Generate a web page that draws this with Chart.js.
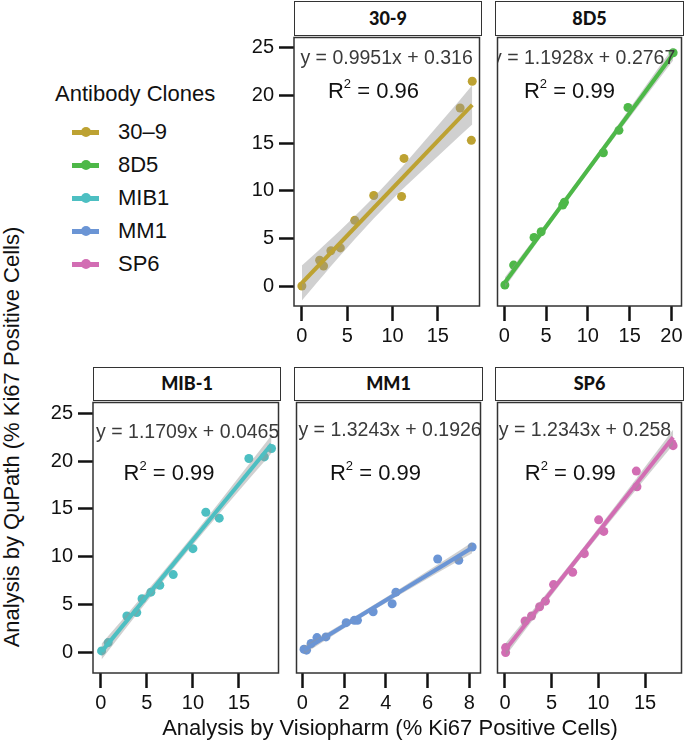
<!DOCTYPE html>
<html>
<head>
<meta charset="utf-8">
<script src="https://cdn.jsdelivr.net/npm/chart.js@4.4.0/dist/chart.umd.min.js"></script>
<style>
  body { margin: 0; background: #fff; width: 685px; height: 742px; position: relative; overflow: hidden;
         font-family: "Liberation Sans", Arial, sans-serif; color: #111; }
  canvas { position: absolute; }
  .strip { position: absolute; box-sizing: border-box; border: 1.5px solid #333; background: #fff;
           font-family: Lato, "Open Sans", sans-serif; font-weight: 900; font-size: 18px; text-align: center; }
  .abs { position: absolute; white-space: nowrap; }
</style>
</head>
<body>
<script>
// data
const clones = ['30–9', '8D5', 'MIB1', 'MM1', 'SP6'];
const stripNames = ['30-9', '8D5', 'MIB-1', 'MM1', 'SP6'];
const colors = ['#BDA232', '#4DB848', '#4DBFC2', '#6B95D5', '#D26DB3'];

const x309 = [0.0, 1.96, 2.39, 3.2, 4.24, 5.83, 7.93, 11.0, 11.27, 17.46, 18.8, 18.7];
const y309 = [0.0, 2.7, 2.1, 3.7, 4.0, 6.9, 9.5, 9.4, 13.4, 18.7, 21.5, 15.3];
const x8d5 = [0.08, 1.13, 3.57, 4.42, 7.0, 7.2, 11.86, 13.72, 14.8, 20.2];
const y8d5 = [0.1, 2.2, 5.1, 5.7, 8.5, 8.8, 14.0, 16.35, 18.75, 24.5];
const xmib = [0.07, 0.79, 2.82, 3.9, 4.47, 5.43, 6.4, 7.86, 10.0, 11.4, 12.86, 16.08, 17.76, 18.54];
const ymib = [0.2, 1.07, 3.84, 4.2, 5.64, 6.33, 7.05, 8.16, 10.86, 14.66, 14.04, 20.26, 20.43, 21.3];
const xmm1 = [0.08, 0.2, 0.42, 0.7, 1.13, 2.1, 2.49, 2.64, 3.39, 4.3, 4.48, 6.48, 7.49, 8.13];
const ymm1 = [0.38, 0.28, 0.97, 1.59, 1.66, 3.15, 3.39, 3.39, 4.29, 5.12, 6.33, 9.79, 9.65, 11.03];
const xsp6 = [0.07, 0.07, 2.15, 2.84, 3.71, 4.33, 5.2, 7.25, 8.5, 10.03, 10.58, 14.06, 14.13, 17.88, 18.0];
const ysp6 = [0.03, 0.55, 3.32, 3.84, 4.81, 5.39, 7.12, 8.4, 10.34, 13.87, 12.66, 18.95, 17.32, 21.82, 21.6];

const slopes = [0.9951, 1.1928, 1.1709, 1.3243, 1.2343];
const intercepts = [0.316, 0.2767, 0.0465, 0.1926, 0.258];
const r2 = ['0.96', '0.99', '0.99', '0.99', '0.99'];

const yTicks = [0, 5, 10, 15, 20, 25];
const xTicks5 = [0, 5, 10, 15];
const xTicks5to20 = [0, 5, 10, 15, 20];
const xTicks2 = [0, 2, 4, 6, 8];

const xs = [x309, x8d5, xmib, xmm1, xsp6];
const ys = [y309, y8d5, ymib, ymm1, ysp6];

// layout of the panels (pixels) and label spots (data units)
const panels = [
  { left: 294, top: 35, w: 188, h: 271, stripTop: 1, yAxis: true, xMin: -0.87, xMax: 19.6, xTicks: xTicks5,
    eq: [9.35, 23.85], rr: [7.9, 20.4] },
  { left: 495, top: 35, w: 189, h: 271, stripTop: 1, yAxis: false, xMin: -0.8, xMax: 21.2, xTicks: xTicks5to20,
    eq: [9.5, 23.85], rr: [7.8, 20.4] },
  { left: 93, top: 400, w: 188, h: 273, stripTop: 367, yAxis: true, xMin: -0.86, xMax: 19.3, xTicks: xTicks5,
    eq: [9.43, 23.0], rr: [7.4, 18.7] },
  { left: 294, top: 400, w: 189, h: 273, stripTop: 367, yAxis: false, xMin: -0.28, xMax: 8.53, xTicks: xTicks2,
    eq: [4.2, 23.2], rr: [3.5, 18.7] },
  { left: 495, top: 400, w: 189, h: 273, stripTop: 367, yAxis: false, xMin: -0.8, xMax: 18.9, xTicks: xTicks5,
    eq: [8.57, 23.2], rr: [7.0, 18.7] }
];

const AXW = 50, AXH = 45, PAD = 2;

// frame + equation text
const panelText = {
  id: 'panelText',
  afterDatasetsDraw(chart, args, opts) {
    const { ctx, chartArea: a, scales } = chart;
    ctx.save();
    ctx.beginPath();
    ctx.rect(a.left, a.top, a.right - a.left, a.bottom - a.top);
    ctx.clip();
    ctx.textBaseline = 'middle';
    ctx.textAlign = 'center';
    ctx.fillStyle = '#3a3a3a';
    ctx.font = '19.5px "Liberation Sans"';
    ctx.fillText(opts.eqText, scales.x.getPixelForValue(opts.eq[0]), scales.y.getPixelForValue(opts.eq[1]));

    ctx.fillStyle = '#111';
    const big = '22px "Liberation Sans"', small = '13px "Liberation Sans"';
    ctx.font = big;
    const wR = ctx.measureText('R').width;
    const wRest = ctx.measureText(' = ' + opts.r2).width;
    ctx.font = small;
    const w2 = ctx.measureText('2').width;
    let px = scales.x.getPixelForValue(opts.rr[0]) - (wR + w2 + wRest) / 2;
    const py = scales.y.getPixelForValue(opts.rr[1]);
    ctx.textAlign = 'left';
    ctx.font = big;
    ctx.fillText('R', px, py);
    ctx.font = small;
    ctx.fillText('2', px + wR, py - 7);
    ctx.font = big;
    ctx.fillText(' = ' + opts.r2, px + wR + w2, py);
    ctx.restore();

    ctx.save();
    ctx.strokeStyle = '#333';
    ctx.lineWidth = 1.5;
    ctx.strokeRect(a.left, a.top, a.right - a.left, a.bottom - a.top);
    ctx.restore();
  }
};

function band(xv, yv, b, c) {
  const n = xv.length;
  const mx = xv.reduce((s, v) => s + v, 0) / n;
  const sxx = xv.reduce((s, v) => s + (v - mx) * (v - mx), 0);
  const sse = xv.reduce((s, v, i) => s + Math.pow(yv[i] - (b * v + c), 2), 0);
  const se = Math.sqrt(sse / (n - 2));
  const t = 2.2;
  const xsorted = [...new Set(xv)].sort((p, q) => p - q);
  const up = [], lo = [];
  xsorted.forEach(v => {
    const h = t * se * Math.sqrt(1 / n + (v - mx) * (v - mx) / sxx);
    up.push({ x: v, y: b * v + c + h });
    lo.push({ x: v, y: b * v + c - h });
  });
  return { up, lo };
}

panels.forEach((p, i) => {
  const strip = document.createElement('div');
  strip.className = 'strip';
  strip.style.left = p.left + 'px';
  strip.style.top = p.stripTop + 'px';
  strip.style.width = p.w + 'px';
  strip.style.height = (p.top - p.stripTop + 1) + 'px';
  strip.style.lineHeight = (p.top - p.stripTop - 2) + 'px';
  strip.textContent = stripNames[i];
  document.body.appendChild(strip);

  const cv = document.createElement('canvas');
  const yw = p.yAxis ? AXW : 0;
  const lw = PAD + yw;
  cv.width = lw + p.w + PAD;
  cv.height = PAD + p.h + AXH;
  cv.style.left = (p.left - lw) + 'px';
  cv.style.top = (p.top - PAD) + 'px';
  document.body.appendChild(cv);

  const xv = xs[i], yv = ys[i];
  const b = slopes[i], c = intercepts[i];
  const bd = band(xv, yv, b, c);
  const xlo = Math.min(...xv), xhi = Math.max(...xv);
  const col = colors[i];

  new Chart(cv.getContext('2d'), {
    type: 'scatter',
    data: {
      datasets: [
        { data: bd.up, showLine: true, fill: '+1', backgroundColor: 'rgba(150,150,150,0.45)',
          borderWidth: 0, pointRadius: 0, order: 2 },
        { data: bd.lo, showLine: true, fill: false, borderWidth: 0, pointRadius: 0, order: 2 },
        { data: [{ x: xlo, y: b * xlo + c }, { x: xhi, y: b * xhi + c }], showLine: true,
          borderColor: col, borderWidth: 4, pointRadius: 0, order: 1 },
        { data: xv.map((v, k) => ({ x: v, y: yv[k] })), pointRadius: 4.5, pointBackgroundColor: col,
          pointBorderWidth: 0, order: 3 }
      ]
    },
    options: {
      responsive: false,
      animation: false,
      devicePixelRatio: 1,
      layout: { padding: { left: PAD, right: PAD, top: PAD, bottom: 0 } },
      plugins: {
        legend: { display: false },
        tooltip: { enabled: false },
        panelText: { eqText: 'y = ' + b + 'x + ' + c, r2: r2[i], eq: p.eq, rr: p.rr }
      },
      scales: {
        x: {
          type: 'linear', min: p.xMin, max: p.xMax,
          afterBuildTicks: s => { s.ticks = p.xTicks.map(v => ({ value: v })); },
          afterFit: s => { s.height = AXH; s.paddingLeft = 0; s.paddingRight = 0; },
          grid: { drawOnChartArea: false, tickLength: 15, tickWidth: 2.5, tickColor: '#111' },
          border: { display: false },
          ticks: { font: { family: 'Liberation Sans', size: 20 }, color: '#111', padding: 3,
                   maxRotation: 0, autoSkip: false }
        },
        y: {
          type: 'linear', min: -2.1, max: 26.1, display: p.yAxis,
          afterBuildTicks: s => { s.ticks = yTicks.map(v => ({ value: v })); },
          afterFit: s => { s.width = yw; s.paddingTop = 0; s.paddingBottom = 0; },
          grid: { drawOnChartArea: false, tickLength: 15, tickWidth: 2.5, tickColor: '#111' },
          border: { display: false },
          ticks: { font: { family: 'Liberation Sans', size: 20 }, color: '#111', padding: 5, autoSkip: false }
        }
      }
    },
    plugins: [panelText]
  });
});

// legend
function addText(txt, left, top, size, extra) {
  const d = document.createElement('div');
  d.className = 'abs';
  d.textContent = txt;
  d.style.left = left + 'px';
  d.style.top = top + 'px';
  d.style.fontSize = size + 'px';
  if (extra) Object.assign(d.style, extra);
  document.body.appendChild(d);
  return d;
}
addText('Antibody Clones', 55, 81, 22);
clones.forEach((name, i) => {
  const cy = 132 + i * 33;
  const line = document.createElement('div');
  Object.assign(line.style, { position: 'absolute', left: '72px', top: (cy - 2.5) + 'px', width: '27px',
    height: '5px', background: colors[i] });
  const dot = document.createElement('div');
  Object.assign(dot.style, { position: 'absolute', left: '80.5px', top: (cy - 5) + 'px', width: '10px',
    height: '10px', borderRadius: '50%', background: colors[i] });
  document.body.appendChild(line);
  document.body.appendChild(dot);
  addText(name, 118, cy - 13, 22, { lineHeight: '26px' });
});

// axis titles
addText('Analysis by Visiopharm (% Ki67 Positive Cells)', 90, 715, 22,
  { width: '600px', textAlign: 'center', lineHeight: '26px' });
addText('Analysis by QuPath (% Ki67 Positive Cells)', 12, 437, 22,
  { transform: 'translate(-50%, -50%) rotate(-90deg)', lineHeight: '26px' });
</script>
</body>
</html>
